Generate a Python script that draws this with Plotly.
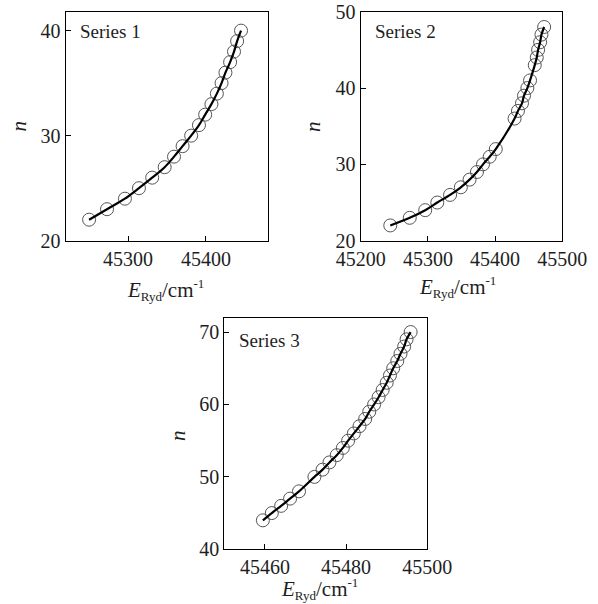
import plotly.graph_objects as go

# Rydberg series: principal quantum number n vs. level energy (cm^-1)
n1 = list(range(22, 41))
e1 = [45250, 45273, 45296, 45314, 45331, 45347, 45359, 45370, 45381, 45391,
      45399, 45407, 45414, 45420, 45425, 45431, 45436, 45440, 45445]

n2 = [22, 23, 24, 25, 26, 27, 28, 29, 30, 31, 32, 36, 37, 38, 39, 40, 41,
      43, 44, 45, 46, 47, 48]
e2 = [45244, 45273, 45296, 45314, 45333, 45349, 45362, 45373, 45382, 45392,
      45401, 45429, 45434, 45440, 45443, 45448, 45452, 45459, 45462, 45464,
      45467, 45469, 45473]

n3 = [44, 45, 46, 47, 48, 50, 51, 52, 53, 54, 55, 56, 57, 58, 59, 60, 61,
      62, 63, 64, 65, 66, 67, 68, 69, 70]
e3 = [45459.5, 45461.7, 45464.0, 45466.2, 45468.4, 45472.2, 45474.2, 45475.9,
      45477.7, 45479.2, 45480.5, 45481.9, 45483.3, 45484.7, 45485.7, 45486.9,
      45488.0, 45489.0, 45490.0, 45490.8, 45491.6, 45492.6, 45493.4, 45494.3,
      45494.9, 45495.9]

series_names = ["Series 1", "Series 2", "Series 3"]

x_ticks = [[45300, 45400], [45200, 45300, 45400, 45500], [45460, 45480, 45500]]
y_ticks = [[20, 30, 40], [20, 30, 40, 50], [40, 50, 60, 70]]
x_ranges = [[45220, 45480], [45200, 45500], [45450, 45500]]
y_ranges = [[20, 41.8], [20, 50], [40, 71.9]]

W, H = 598, 604
FONT = "Liberation Serif"
INK = "#1e1e1e"


def fx(px):
    return px / W


def fy(py):
    return 1 - py / H


# panel boxes in pixels: (left, right, top, bottom)
boxes = [(65.7, 268.3, 11.7, 240.7),
         (360.7, 562.3, 11.7, 240.7),
         (224.3, 427.3, 318.3, 549.3)]

fig = go.Figure()
data = [(e1, n1), (e2, n2), (e3, n3)]
for i, (e, n) in enumerate(data):
    sfx = "" if i == 0 else str(i + 1)
    fig.add_trace(go.Scatter(
        x=e, y=n, mode="markers", xaxis="x" + sfx, yaxis="y" + sfx,
        marker=dict(symbol="circle-open", size=13, color="#555555",
                    line=dict(width=1, color="#555555")),
        showlegend=False, hoverinfo="skip"))
    fig.add_trace(go.Scatter(
        x=e, y=n, mode="lines", xaxis="x" + sfx, yaxis="y" + sfx,
        line=dict(color="black", width=2.2, shape="spline", smoothing=1.0),
        showlegend=False, hoverinfo="skip"))

layout = dict(
    width=W, height=H, margin=dict(l=0, r=0, t=0, b=0, autoexpand=False),
    paper_bgcolor="white", plot_bgcolor="white",
    font=dict(family=FONT, color=INK, size=20),
)

x_title = ("<i>E</i><sub><span style='font-size:13px'>Ryd</span></sub>"
           "/cm<sup><span style='font-size:13px'>-1</span></sup>")

annotations = []
xtitle_pos = [(165, 290), (457, 287), (319, 589)]
ytitle_pos = [(18, 126.5), (313, 127), (178, 436)]
label_pos = [(78.3, 31.5), (373.3, 31.7), (237.3, 340)]

for i, (l, r, t, b) in enumerate(boxes):
    sfx = "" if i == 0 else str(i + 1)
    common = dict(showline=True, linecolor="black", linewidth=1.3, mirror=True,
                  showgrid=False, zeroline=False, ticks="inside", ticklen=5,
                  tickwidth=1, tickcolor="black", tickformat="d",
                  automargin=False,
                  tickfont=dict(family=FONT, size=20, color=INK))
    layout["xaxis" + sfx] = dict(common, domain=[fx(l), fx(r)],
                                 range=x_ranges[i], tickvals=x_ticks[i],
                                 anchor="y" + sfx, tickangle=0)
    layout["yaxis" + sfx] = dict(common, domain=[fy(b), fy(t)],
                                 range=y_ranges[i], tickvals=y_ticks[i],
                                 anchor="x" + sfx)
    annotations.append(dict(
        x=fx(xtitle_pos[i][0]), y=fy(xtitle_pos[i][1]), xref="paper", yref="paper",
        text=x_title, showarrow=False,
        xanchor="center", yanchor="middle",
        font=dict(family=FONT, size=21, color=INK)))
    annotations.append(dict(
        x=fx(ytitle_pos[i][0]), y=fy(ytitle_pos[i][1]), xref="paper", yref="paper",
        text="<i>n</i>", showarrow=False, textangle=-90,
        xanchor="center", yanchor="middle",
        font=dict(family=FONT, size=21, color=INK)))
    annotations.append(dict(
        x=fx(label_pos[i][0]), y=fy(label_pos[i][1]), xref="paper", yref="paper",
        text=series_names[i], showarrow=False,
        xanchor="left", yanchor="middle",
        font=dict(family=FONT, size=19, color=INK)))

layout["annotations"] = annotations
fig.update_layout(**layout)
fig.write_html("out.html")
